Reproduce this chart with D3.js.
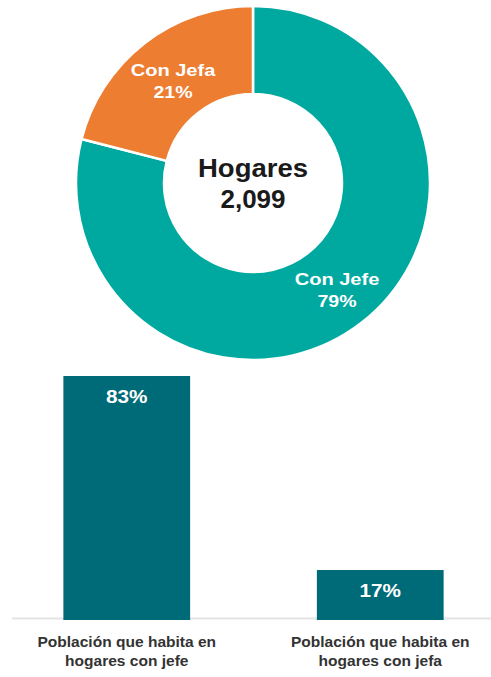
<!DOCTYPE html>
<html>
<head>
<meta charset="utf-8">
<script src="https://cdn.jsdelivr.net/npm/d3@7"></script>
<style>
html,body{margin:0;padding:0;background:#fff;}
svg{display:block;font-family:"Liberation Sans",Arial,sans-serif;}
</style>
</head>
<body>
<svg id="chart" width="491" height="677"></svg>
<script>
// Donut data
const donutLabels = ["Con Jefe", "Con Jefa"];
const donutValues = [79, 21];
const donutColors = ["#00a99f", "#ed7d31"];
const centerTitle = "Hogares";
const centerTotal = "2,099";

// Bar data
const barCategories = [["Población que habita en", "hogares con jefe"], ["Población que habita en", "hogares con jefa"]];
const barValues = [83, 17];
const barColor = "#006b78";

const svg = d3.select("#chart");

// helper: horizontally widened text
function wideText(parent, x, y, txt, opts) {
  const g = parent.append("g").attr("transform", `translate(${x},${y}) scale(${opts.sx || 1.15},1)`);
  return g.append("text").attr("text-anchor", "middle")
    .attr("fill", opts.fill).attr("font-size", opts.size).attr("font-weight", "bold").text(txt);
}

// ---- Donut ----
const cx = 253, cy = 183, R = 177, r = 89;
const pie = d3.pie().sort(null).value(d => d)(donutValues);
const arc = d3.arc().innerRadius(r).outerRadius(R);
const g = svg.append("g").attr("transform", `translate(${cx},${cy})`);
g.selectAll("path").data(pie).join("path")
  .attr("d", arc)
  .attr("fill", (d, i) => donutColors[i])
  .attr("stroke", "#fff").attr("stroke-width", 2.5);

const labelPos = [[84, 102], [-80, -107]];
pie.forEach((d, i) => {
  wideText(g, labelPos[i][0], labelPos[i][1], donutLabels[i], {fill: "#fff", size: 17, sx: 1.18});
  wideText(g, labelPos[i][0], labelPos[i][1] + 22, donutValues[i] + "%", {fill: "#fff", size: 17, sx: 1.15});
});
wideText(g, 0, -6, centerTitle, {fill: "#1a1a1a", size: 25, sx: 1.1});
wideText(g, 0, 25, centerTotal, {fill: "#1a1a1a", size: 25, sx: 1.04});

// ---- Bars ----
const x = d3.scaleBand().domain(d3.range(barValues.length)).range([0, 507]).paddingInner(0.5).paddingOuter(0.25);
const y = d3.scaleLinear().domain([0, 83]).range([620, 376]);

svg.append("line").attr("x1", 12).attr("x2", 491).attr("y1", 618.5).attr("y2", 618.5)
  .attr("stroke", "#e3e3e3").attr("stroke-width", 2);

svg.selectAll("rect.bar").data(barValues).join("rect").attr("class", "bar")
  .attr("x", (d, i) => x(i)).attr("width", x.bandwidth())
  .attr("y", d => y(d)).attr("height", d => y(0) - y(d))
  .attr("fill", barColor);

barValues.forEach((v, i) => {
  wideText(svg, x(i) + x.bandwidth() / 2, y(v) + 27, v + "%", {fill: "#fff", size: 18, sx: 1.15});
});

barCategories.forEach((lines, i) => {
  lines.forEach((l, j) => {
    wideText(svg, x(i) + x.bandwidth() / 2, 647 + j * 19, l, {fill: "#333", size: 14, sx: 1.11});
  });
});
</script>
</body>
</html>
